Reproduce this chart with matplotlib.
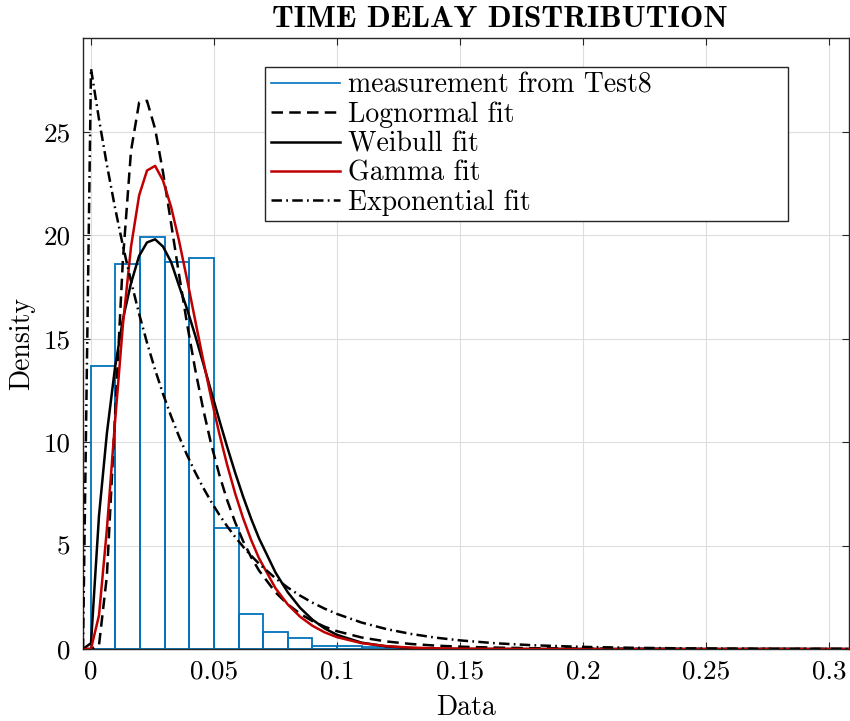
import matplotlib
matplotlib.use('Agg')
import matplotlib.pyplot as plt
from matplotlib.lines import Line2D
from matplotlib.ticker import FuncFormatter

plt.rcParams['font.family'] = 'cmr10'
plt.rcParams['mathtext.fontset'] = 'cm'
plt.rcParams['axes.formatter.use_mathtext'] = True

# histogram of measured delays (density), bins of 0.01
bin_left = [0.0, 0.01, 0.02, 0.03, 0.04, 0.05, 0.06, 0.07, 0.08, 0.09, 0.10, 0.11, 0.12, 0.13]
bin_density = [13.7, 18.6, 19.9, 18.7, 18.9, 5.84, 1.69, 0.81, 0.55, 0.16, 0.16, 0.08, 0.04, 0.04]

# fitted pdfs evaluated on the plotting grid
x_fit = [-0.0032, 0.00005, 0.0033, 0.0065, 0.0098, 0.013, 0.0163, 0.0196, 0.0228, 0.0261,
         0.0293, 0.0326, 0.0358, 0.0391, 0.0423, 0.0456, 0.0488, 0.0521, 0.0553, 0.0586,
         0.0618, 0.0651, 0.0683, 0.075, 0.08, 0.085, 0.09, 0.095, 0.1, 0.11, 0.12, 0.13,
         0.14, 0.15, 0.165, 0.18, 0.2, 0.22, 0.24, 0.26, 0.28, 0.3, 0.308]
lognormal = [0.0, 0.0, 0.181, 3.525, 11.222, 18.791, 24.066, 26.409, 26.496, 25.137,
             23.049, 20.564, 18.110, 15.702, 13.567, 11.606, 9.940, 8.454, 7.216, 6.127,
             5.228, 4.441, 3.795, 2.740, 2.157, 1.704, 1.351, 1.076, 0.860, 0.556, 0.365, 0.243,
             0.164, 0.112, 0.065, 0.038, 0.020, 0.011, 0.006, 0.003, 0.002, 0.001, 0.001]
weibull = [0.0, 0.282, 6.445, 10.420, 13.590, 15.932, 17.676, 19.0, 19.65, 19.8,
           19.45, 18.7, 17.562, 16.424, 15.186, 13.826, 12.477, 11.095, 9.797, 8.527,
           7.380, 6.297, 5.350, 3.697, 2.740, 1.991, 1.419, 0.993, 0.683, 0.306, 0.128, 0.050,
           0.018, 0.006, 0.001, 0.0, 0.0, 0.0, 0.0, 0.0, 0.0, 0.0, 0.0]
gamma = [0.0, 0.0, 1.631, 5.778, 10.965, 15.647, 19.433, 21.921, 23.124, 23.35,
         22.642, 21.363, 19.740, 17.847, 15.933, 13.979, 12.173, 10.445, 8.925, 7.527,
         6.337, 5.272, 4.386, 2.937, 2.151, 1.561, 1.124, 0.803, 0.571, 0.283, 0.138, 0.066,
         0.031, 0.015, 0.005, 0.001, 0.0, 0.0, 0.0, 0.0, 0.0, 0.0, 0.0]
exponential = [0.0, 28.050, 25.603, 23.402, 21.330, 19.497, 17.771, 16.197, 14.805, 13.494,
               12.334, 11.242, 10.276, 9.366, 8.561, 7.803, 7.132, 6.501, 5.942, 5.416,
               4.950, 4.512, 4.124, 3.417, 2.969, 2.580, 2.242, 1.948, 1.693, 1.278, 0.965, 0.729,
               0.550, 0.416, 0.273, 0.179, 0.102, 0.058, 0.033, 0.019, 0.011, 0.006, 0.005]

labels = ['measurement from Test8', 'Lognormal fit', 'Weibull fit', 'Gamma fit', 'Exponential fit']

blue = '#0072BD'
red = '#C00000'
axcol = '#262626'

fig = plt.figure(figsize=(8.5, 7.21), dpi=100)
ax = fig.add_axes([83 / 850, 1 - 649 / 721, 766 / 850, 611 / 721])

ax.bar(bin_left, bin_density, width=0.01, align='edge', facecolor='none',
       edgecolor=blue, linewidth=1.3, zorder=2)

lw = 1.8
l1, = ax.plot(x_fit, lognormal, color='k', lw=lw, dashes=(4.6, 2.5), zorder=3)
l2, = ax.plot(x_fit, weibull, color='k', lw=lw, zorder=3)
l3, = ax.plot(x_fit, gamma, color=red, lw=lw, zorder=3)
l4, = ax.plot(x_fit, exponential, color='k', lw=lw, dashes=(4.2, 1.7, 0.7, 1.7), zorder=3)
hist_handle = Line2D([], [], color=blue, lw=1.2)

ax.set_xlim(-0.0032, 0.308)
ax.set_ylim(0, 29.53)
ax.set_xticks([0, 0.05, 0.1, 0.15, 0.2, 0.25, 0.3])
ax.set_yticks([0, 5, 10, 15, 20, 25])
ax.xaxis.set_major_formatter(FuncFormatter(lambda v, p: '%g' % v))
ax.yaxis.set_major_formatter(FuncFormatter(lambda v, p: '%g' % v))

ax.set_axisbelow(True)
ax.grid(True, color='#dedede', linewidth=0.8)
ax.tick_params(direction='in', length=5, width=0.8, color=axcol, labelsize=19.5,
               top=True, right=True, labelcolor='k')
ax.tick_params(axis='x', pad=8)
ax.tick_params(axis='y', pad=9)
for s in ax.spines.values():
    s.set_color(axcol)
    s.set_linewidth(1.0)

ax.set_xlabel('Data', fontsize=20, labelpad=8)
ax.set_ylabel('Density', fontsize=20, labelpad=6)
ax.set_title('TIME DELAY DISTRIBUTION', fontfamily='cmb10', fontsize=22.5,
             x=0.544, pad=8)

leg = ax.legend([hist_handle, l1, l2, l3, l4], labels,
                loc='upper left', bbox_to_anchor=(0.2376, 0.0, 0.6828, 0.9525),
                mode='expand', borderaxespad=0, fontsize=20, fancybox=False,
                framealpha=1, edgecolor=axcol, handlelength=2.5, handletextpad=0.3,
                labelspacing=0.1, borderpad=0.2)
leg.get_frame().set_linewidth(1.0)

fig.savefig('out.png')
